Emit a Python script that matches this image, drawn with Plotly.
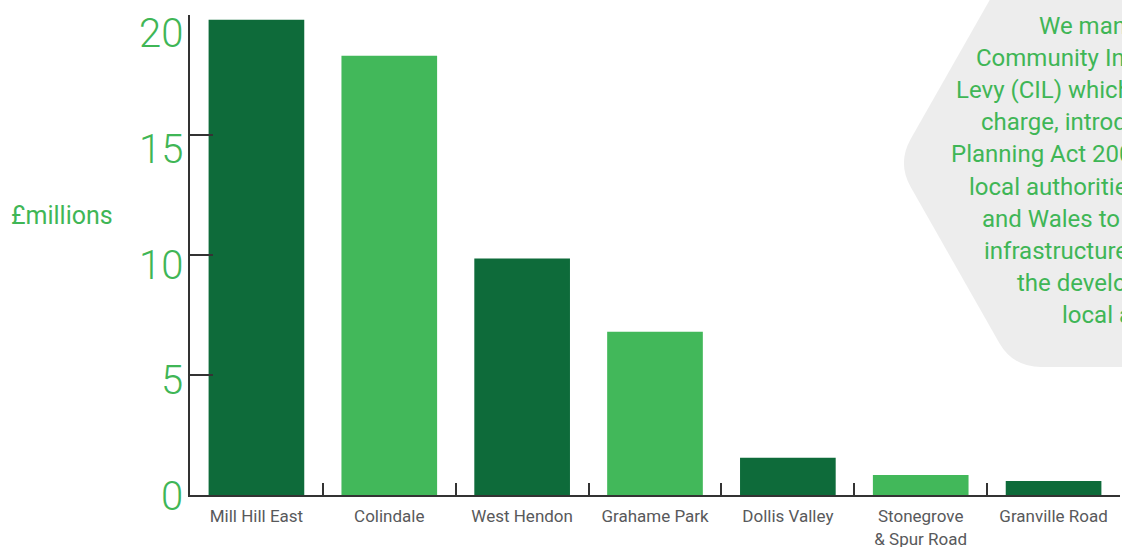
import math
import plotly.graph_objects as go

# ---- data ----
CATEGORIES = ["Mill Hill East", "Colindale", "West Hendon", "Grahame Park",
              "Dollis Valley", "Stonegrove<br>& Spur Road", "Granville Road"]
VALUES = [19.8, 18.3, 9.85, 6.8, 1.55, 0.83, 0.58]
Y_TICKS = [0, 5, 10, 15, 20]
Y_TICK_LABELS = ["0", "5", "10", "15", "20"]
Y_TITLE = "£millions"
HEX_LINES = [
    "We manage the",
    "Community Infrastructure",
    "Levy (CIL) which is a planning",
    "charge, introduced by the",
    "Planning Act 2008, as a tool for",
    "local authorities in England",
    "and Wales to help deliver",
    "infrastructure to support",
    "the development of their",
    "local area.",
]

# ---- styles ----
DARK = "#0E6B3A"
LIGHT = "#42B85A"
TXT_GREEN = "#3FB656"
AXIS = "#333333"
GREY_TXT = "#58595B"
FONT = "Roboto"

W, H = 1122, 547
ML, MR, MT, MB = 190, 2, 15, 52
PW, PH = W - ML - MR, H - MT - MB


def px(x, y):
    return (x - ML) / PW, (H - MB - y) / PH


bar_colors = [DARK if i % 2 == 0 else LIGHT for i in range(len(CATEGORIES))]

fig = go.Figure()
fig.add_trace(go.Bar(x=CATEGORIES, y=VALUES, marker=dict(color=bar_colors, line=dict(width=0)),
                     width=0.72, hoverinfo="skip"))


def hex_path():
    def P(x, y):
        a, b = px(x, y)
        return f"{a:.5f},{b:.5f}"
    top = (1013, -41)
    left = (897, 163)
    bot = (1013, 367)
    r = 28

    def along(p, q, d):
        dx, dy = q[0] - p[0], q[1] - p[1]
        L = math.hypot(dx, dy)
        return (p[0] + dx * d / L, p[1] + dy * d / L)
    a1 = along(left, top, r)
    a2 = along(left, bot, r)
    b1 = along(bot, left, r)
    b2 = (bot[0] + r, bot[1])
    return (f"M {P(1400, -41)} L {P(*top)} L {P(*a1)} Q {P(*left)} {P(*a2)} "
            f"L {P(*b1)} Q {P(*bot)} {P(*b2)} L {P(1400, 367)} Z")


fig.add_shape(type="path", path=hex_path(), xref="paper", yref="paper",
              fillcolor="#EDEDED", line=dict(width=0), layer="below")

hex_left = [1037, 974, 954, 979, 949, 967, 980, 982, 1015, 1060]
for i, line in enumerate(HEX_LINES):
    xp, yp = px(hex_left[i], 26 + 32.1 * i)
    fig.add_annotation(text=line, xref="paper", yref="paper", x=xp, y=yp,
                       xanchor="left", yanchor="middle", showarrow=False,
                       font=dict(family=FONT, size=24, color=TXT_GREEN))

xp, yp = px(9, 216)
fig.add_annotation(text=Y_TITLE, xref="paper", yref="paper", x=xp, y=yp,
                   xanchor="left", yanchor="middle", showarrow=False,
                   font=dict(family=FONT, size=25, color=TXT_GREEN))

# y tick labels (placed on a slightly compressed label scale, as in the original)
for v, lab in zip(Y_TICKS, Y_TICK_LABELS):
    xp, yp = px(185, 496 - v * 23.1)
    fig.add_annotation(text=lab, xref="paper", yref="paper", x=xp, y=yp,
                       xanchor="right", yanchor="middle", showarrow=False,
                       font=dict(family=FONT, size=40, color=TXT_GREEN, weight=300))

fig.update_layout(
    width=W, height=H,
    margin=dict(l=ML, r=MR, t=MT, b=MB, autoexpand=False),
    paper_bgcolor="white", plot_bgcolor="rgba(0,0,0,0)",
    showlegend=False,
    xaxis=dict(type="category", range=[-0.5, len(CATEGORIES) - 0.5],
               showline=True, linecolor=AXIS, linewidth=2,
               ticks="inside", tickson="boundaries", ticklen=12, tickwidth=2, tickcolor=AXIS,
               tickfont=dict(family=FONT, size=17, color=GREY_TXT),
               ticklabelstandoff=5, showgrid=False, fixedrange=True, automargin=False),
    yaxis=dict(range=[0, 20], showline=True, linecolor=AXIS, linewidth=2,
               ticks="inside", ticklen=23, tickwidth=2, tickcolor=AXIS,
               tickvals=Y_TICKS, showticklabels=False, showgrid=False, zeroline=False,
               fixedrange=True, automargin=False),
)

fig.write_html("out.html", config={"displayModeBar": False, "staticPlot": True},
               post_script="document.body.style.margin='0';document.body.style.overflow='hidden';")
